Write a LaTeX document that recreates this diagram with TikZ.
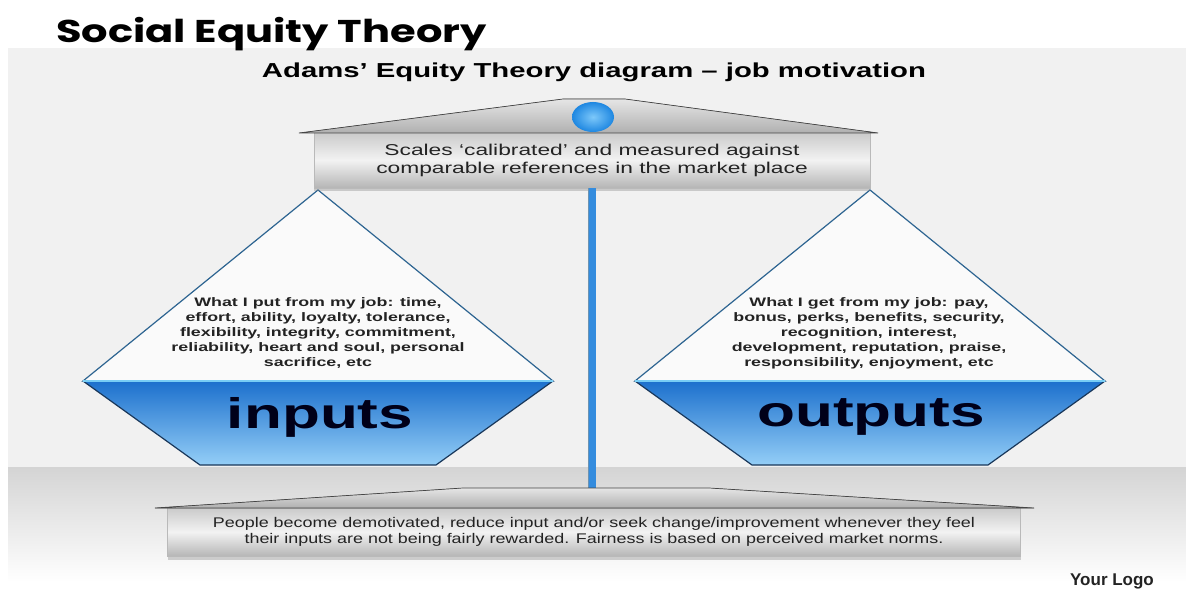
\documentclass[tikz,border=0pt]{standalone}
\usepackage{fontspec}
\setmainfont{Liberation Sans}[FakeStretch=1.45]
\newfontfamily\headfont{Poppins}[FakeStretch=1.32]
\newfontfamily\notefont{Liberation Sans}[FakeStretch=1.28]
\newfontfamily\logofont{Liberation Sans}
\usetikzlibrary{positioning,shadows}
\definecolor{PanelGray}{RGB}{241,241,241}
\definecolor{FloorGray}{RGB}{212,212,212}
\definecolor{PanBlue}{RGB}{28,112,205}
\definecolor{PanLight}{RGB}{148,206,247}
\definecolor{PanEdge}{RGB}{45,100,145}
\definecolor{PanNavy}{RGB}{25,55,90}
\definecolor{PanCyan}{RGB}{120,205,245}
\definecolor{PoleBlue}{RGB}{52,140,222}
\definecolor{BallLight}{RGB}{125,200,250}
\definecolor{BallDark}{RGB}{30,135,225}
\definecolor{TextGray}{RGB}{35,35,35}

\tikzset{
  roof/.style={top color=gray!20, bottom color=gray!62, draw=gray!55!black, line width=0.7pt},
  plate/.style={rectangle, draw=gray!55, top color=gray!42, bottom color=gray!58, middle color=gray!10,
    inner sep=0pt, align=center, text=TextGray,
    drop shadow={shadow xshift=0pt, shadow yshift=-3pt, opacity=0.35}},
  pantext/.style={align=center, text=TextGray, font=\bfseries\fontsize{12.3}{15}\selectfont},
  panlabel/.style={text=black!90!blue, font=\bfseries\fontsize{42.8}{43}\selectfont},
}

\begin{document}
\begin{tikzpicture}[x=1pt,y=-1pt]
  \useasboundingbox (0,0) rectangle (1186,591);
  \fill[white] (0,0) rectangle (1186,591);
  % backdrop and floor
  \fill[PanelGray] (8,48) rectangle (1186,467);
  \shade[top color=FloorGray, bottom color=white] (8,467) rectangle (1186,582);

  \node[anchor=base west, inner sep=0pt, font=\headfont\bfseries\fontsize{31.5}{32}\selectfont] (title) at (56,43) {Social Equity Theory};
  \node[anchor=base, font=\bfseries\fontsize{20.2}{22}\selectfont] (subtitle) at (594,78)
    {Adams' Equity Theory diagram -- job motivation};

  % the two pans
  \foreach \cx in {318,870}{
    \filldraw[fill=white!96!gray, draw=PanEdge, line width=1.2pt] (\cx,190) -- (\cx+235,381) -- (\cx-235,381) -- cycle;
    \shade[top color=PanBlue, bottom color=PanLight] (\cx-235,381) -- (\cx+235,381) -- (\cx+118,465) -- (\cx-118,465) -- cycle;
    \draw[PanNavy, line width=1.2pt] (\cx-235,381) -- (\cx-118,465) -- (\cx+118,465) -- (\cx+235,381);
    \draw[PanCyan, line width=1.5pt] (\cx-235,381) -- (\cx+235,381);
  }

  % beam plates
  \node[plate, minimum width=556, minimum height=56, font=\fontsize{15.7}{18}\selectfont] (calib) at (592,160)
    {Scales `calibrated' and measured against\\comparable references in the market place};
  \node[plate, minimum width=853, minimum height=49, font=\notefont\fontsize{14}{15.5}\selectfont] (norms) at (594,532)
    {People become demotivated, reduce input and/or seek change/improvement whenever they feel\\
     their inputs are not being fairly rewarded. Fairness is based on perceived market norms.};

  % pole
  \draw[PoleBlue, line width=8pt] (calib.south) -- (calib.south |- norms.north);
  \draw[PanEdge!70, line width=0.6pt] ([xshift=-4pt]calib.south) -- ([xshift=-4pt]calib.south |- norms.north);

  \filldraw[roof] (299,133) -- (563,99) -- (625,99) -- (878,133) -- cycle;
  \filldraw[roof] (155,508) -- (463,488) -- (709,488) -- (1034,508) -- cycle;
  \shade[inner color=BallLight, outer color=BallDark] (593,117) ellipse (21 and 15);

  \node[pantext] (putlist) at (318,333) {What I put from my job: time,\\effort, ability, loyalty, tolerance,\\
    flexibility, integrity, commitment,\\reliability, heart and soul, personal\\sacrifice, etc};
  \node[pantext] (getlist) at (869,333) {What I get from my job: pay,\\bonus, perks, benefits, security,\\
    recognition, interest,\\development, reputation, praise,\\responsibility, enjoyment, etc};
  \node[panlabel] (inputs) at (320,417) {inputs};
  \node[panlabel] (outputs) at (871,417) {outputs};

  \node[anchor=base, inner sep=0pt, font=\logofont\bfseries\fontsize{17}{18}\selectfont, text=TextGray] (logo) at (1112,585) {Your Logo};
\end{tikzpicture}
\end{document}
